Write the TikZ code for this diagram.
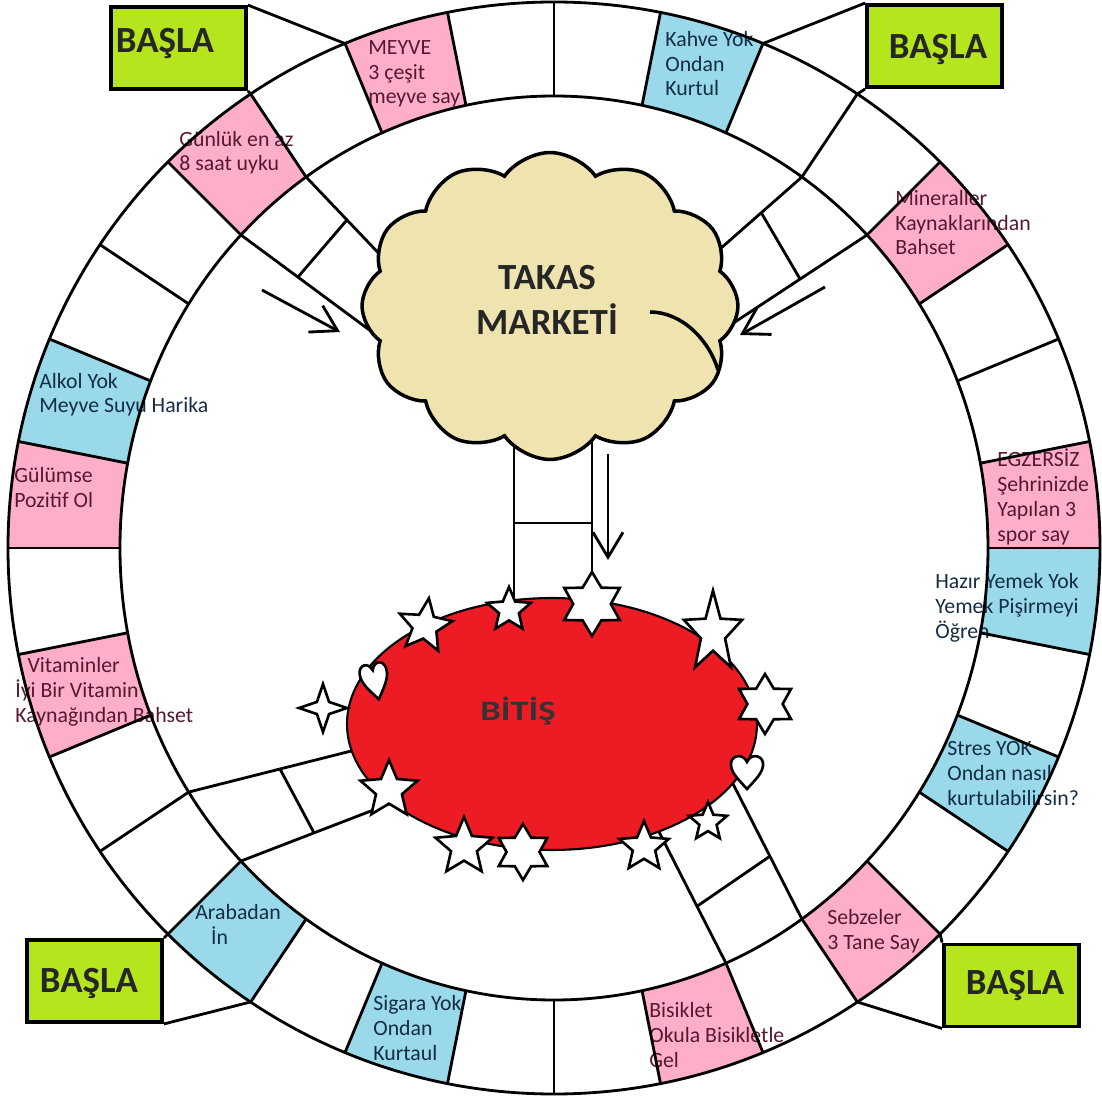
\documentclass[tikz,border=0pt]{standalone}
\usepackage{graphicx}
\usepackage{fontspec}
\setmainfont{Carlito}
\usetikzlibrary{shapes.geometric, shapes.symbols, arrows.meta, calc}

\definecolor{pinkcol}{RGB}{255,174,201}
\definecolor{bluecol}{RGB}{153,217,234}
\definecolor{limecol}{RGB}{181,230,29}
\definecolor{tancol}{RGB}{239,228,176}
\definecolor{redcol}{RGB}{237,28,36}
\definecolor{pinkink}{RGB}{85,25,50}
\definecolor{blueink}{RGB}{20,45,70}

% радиус внутреннего кольца
\newcommand{\ringin}[1]{434/sqrt((cos(#1))^2+0.92195*(sin(#1))^2)}

\begin{document}
\begin{tikzpicture}[x=0.02cm, y=0.02cm,
    ringline/.style={line width=1.6pt},
    pinkcell/.style={fill=pinkcol},
    bluecell/.style={fill=bluecol},
    celltext/.style={font=\fontsize{12.4}{14.2}\selectfont, align=left, anchor=base west, inner sep=0pt},
    startbox/.style={rectangle, draw, line width=2.2pt, fill=limecol, minimum width=27mm, minimum height=16.4mm, inner sep=0pt},
    starttext/.style={font=\fontsize{21}{24}\selectfont\bfseries, text=black!85, anchor=base, inner sep=0pt},
    market/.style={cloud, cloud puffs=12, cloud puff arc=110, cloud ignores aspect, draw, line width=2pt, fill=tancol, minimum width=75.2mm, minimum height=61.4mm, inner sep=0pt},
    finish/.style={ellipse, draw, line width=1.2pt, fill=redcol, minimum width=82mm, minimum height=50.4mm, inner sep=0pt},
    bigtext/.style={font=\fontsize{21}{25.5}\selectfont\bfseries, text=black!85, align=center, inner sep=0pt},
    wstar/.style={star, draw, fill=white, line width=1.5pt, inner sep=0pt},
    pointer/.style={line width=1.6pt, -{Straight Barb[length=5mm, width=6mm]}},
    heartpic/.pic={\draw[fill=white, line width=1.5pt] (0,-17) .. controls (-8,-8) and (-17,0) .. (-16,9) .. controls (-15,17) and (-4,19) .. (0,10) .. controls (4,19) and (15,17) .. (16,9) .. controls (17,0) and (8,-8) .. (0,-17) -- cycle;}
]
\useasboundingbox (-554,-551) rectangle (548,548);

% Цветные клетки
\foreach \i/\c in {0/pinkcell, 3/pinkcell, 9/pinkcell, 11/pinkcell, 15/pinkcell, 17/pinkcell, 25/pinkcell, 27/pinkcell,
                   6/bluecell, 14/bluecell, 20/bluecell, 22/bluecell, 29/bluecell, 31/bluecell}{
  \pgfmathsetmacro\a{\i*11.25}
  \pgfmathsetmacro\b{\a+11.25}
  \begin{scope}
    \clip (0,0) -- (\a:700) -- (\b:700) -- cycle;
    \fill[\c, even odd rule] (0,0) circle[radius=546] (0,0) ellipse[x radius=434, y radius=452];
  \end{scope}
}

% Тексты клеток (опорная точка - последняя строка)
\node[celltext, text=pinkink] (egzersiz) at (443,7) {EGZERSİZ\\Şehrinizde\\Yapılan 3\\spor say};
\node[celltext, text=pinkink] (mineral) at (341,293) {Mineraller\\Kaynaklarından\\Bahset};
\node[celltext, text=blueink] (kahve) at (111,452) {Kahve Yok\\Ondan\\Kurtul};
\node[celltext, text=pinkink] (meyve) at (-186,444) {MEYVE\\3 çeşit\\meyve say};
\node[celltext, text=pinkink] (uyku) at (-375,377) {Günlük en az\\8 saat uyku};
\node[celltext, text=blueink] (alkol) at (-515,135) {Alkol Yok\\Meyve Suyu Harika};
\node[celltext, text=pinkink] (gulumse) at (-540,41) {Gülümse\\Pozitif Ol};
\node[celltext, text=pinkink] (vitamin) at (-539,-174) {\hspace*{7pt}Vitaminler\\İyi Bir Vitamin\\Kaynağından Bahset};
\node[celltext, text=blueink] (araba) at (-359,-396) {Arabadan\\\hspace*{9pt}İn};
\node[celltext, text=blueink] (sigara) at (-181,-512) {Sigara Yok\\Ondan\\Kurtaul};
\node[celltext, text=pinkink] (bisiklet) at (95,-519) {Bisiklet\\Okula Bisikletle\\Gel};
\node[celltext, text=pinkink] (sebze) at (273,-401) {Sebzeler\\3 Tane Say};
\node[celltext, text=blueink] (stres) at (393,-257) {Stres YOK\\Ondan nasıl\\kurtulabilirsin?};
\node[celltext, text=blueink] (hazir) at (381,-90) {Hazır Yemek Yok\\Yemek Pişirmeyi\\Öğren};

% Кольцо
\draw[ringline] (0,0) circle[radius=546];
\draw[ringline] (0,0) ellipse[x radius=434, y radius=452];
\foreach \i in {0,...,31}{
  \pgfmathsetmacro\a{\i*11.25}
  \draw[ringline] (\a:546) -- (\a:{\ringin{\a}});
}

% Старты
\node[startbox] (startNW) at (-375.5,500) {};
\node[startbox] (startNE) at (380.5,502) {};
\node[startbox] (startSW) at (-459.5,-433) {};
\node[startbox] (startSE) at (457.5,-437.5) {};
\node[starttext] (startNWtext) at (-389,495) {BAŞLA};
\node[starttext] (startNEtext) at (384,489) {BAŞLA};
\node[starttext] (startSWtext) at (-465,-444) {BAŞLA};
\node[starttext] (startSEtext) at (461,-446) {BAŞLA};

\coordinate (o56) at (56.25:546);
\coordinate (o67) at (67.5:546);
\coordinate (o112) at (112.5:546);
\coordinate (o124) at (123.75:546);
\coordinate (o225) at (225:546);
\coordinate (o236) at (236.25:546);
\coordinate (o304) at (303.75:546);
\coordinate (o315) at (315:546);

\draw[ringline] (startNW.north east) -- (o112);
\draw[ringline] (startNW.south east) -- (o124);
\draw[ringline] (startNE.north west) -- (o67);
\draw[ringline] (startNE.south west) -- (o56);
\draw[ringline] (startSW.north east) -- (o225);
\draw[ringline] (startSW.south east) -- (o236);
\draw[ringline] (startSE.north west) -- (o315);
\draw[ringline] (startSE.south west) -- (o304);

% Дорожки к центру
\coordinate (i45) at (45:{\ringin{45}});
\coordinate (i56) at (56.25:{\ringin{56.25}});
\coordinate (i124) at (123.75:{\ringin{123.75}});
\coordinate (i135) at (135:{\ringin{135}});
\coordinate (i214) at (213.75:{\ringin{213.75}});
\coordinate (i225) at (225:{\ringin{225}});
\coordinate (i293) at (292.5:{\ringin{292.5}});
\coordinate (i304) at (303.75:{\ringin{303.75}});

\coordinate (nwA) at (-147,265);
\coordinate (nwB) at (-144,188);
\coordinate (neA) at (141,277);
\coordinate (neB) at (140,199);
\coordinate (swA) at (-187,-199);
\coordinate (swB) at (-139,-246);
\coordinate (seA) at (101,-276);
\coordinate (seB) at (173,-224);
\coordinate (vA1) at (-40,140);
\coordinate (vA2) at (-40,-70);
\coordinate (vB1) at (38,140);
\coordinate (vB2) at (38,-70);

\draw[ringline] (i124) -- (nwA);
\draw[ringline] (i135) -- (nwB);
\draw[ringline] ($(i124)!0.405!(nwA)$) -- ($(i135)!0.337!(nwB)$);

\draw[ringline] (i56) -- (neA);
\draw[ringline] (i45) -- (neB);
\draw[ringline] ($(i56)!0.38!(neA)$) -- ($(i45)!0.387!(neB)$);

\draw[ringline] (i214) -- (swA);
\draw[ringline] (i225) -- (swB);
\draw[ringline] ($(i214)!0.512!(swA)$) -- ($(i225)!0.42!(swB)$);

\draw[ringline] (i293) -- (seA);
\draw[ringline] (i304) -- (seB);
\draw[ringline] ($(i293)!0.408!(seA)$) -- ($(i304)!0.427!(seB)$);

\draw[ringline] (vA1) -- (vA2);
\draw[ringline] (vB1) -- (vB2);
\draw[ringline] ($(vA1)!0.548!(vA2)$) -- ($(vB1)!0.548!(vB2)$);

% Облако
\node[market] (market) at (-4,242) {};
\node[bigtext] (marketText) at (-7,248) {TAKAS\\MARKETİ};
\draw[line width=2pt] (96,236) .. controls (128,236) and (155,208) .. (164,178);

% Финиш
\node[finish] (finish) at (-2,-176) {};
\node[font=\fontsize{16}{19}\selectfont\bfseries, text=black!80, anchor=base, inner sep=0pt] (finishText) at (-36,-172) {\scalebox{1.3}[1]{BİTİŞ}};

% Стрелки
\coordinate (arNWs) at (-292,258);
\coordinate (arNWe) at (-214,216);
\coordinate (arNEs) at (271,261);
\coordinate (arNEe) at (186,213);
\coordinate (arDs) at (54,94);
\coordinate (arDe) at (54,-12);
\draw[pointer] (arNWs) -- (arNWe);
\draw[pointer] (arNEs) -- (arNEe);
\draw[pointer] (arDs) -- (arDe);

% Звёзды и сердца
\node[wstar, star points=5, star point ratio=2.2, minimum size=11.2mm, rotate=-8] (star1) at (-129,-78) {};
\node[wstar, star points=5, star point ratio=2.2, minimum size=9.2mm] (star2) at (-45,-62) {};
\node[wstar, star points=6, star point ratio=1.7, minimum size=12.8mm] (star3) at (38,-56) {};
\node[wstar, star points=5, star point ratio=2.4, minimum size=17mm, xscale=0.72, transform shape] (star4) at (159,-85) {};
\node[wstar, star points=6, star point ratio=1.7, minimum size=12mm] (star5) at (211,-156) {};
\node[wstar, star points=5, star point ratio=2.2, minimum size=8mm] (star7) at (154,-274) {};
\node[wstar, star points=5, star point ratio=2.2, minimum size=10.4mm] (star8) at (90,-299) {};
\node[wstar, star points=6, star point ratio=1.7, minimum size=11.2mm] (star9) at (-31,-304) {};
\node[wstar, star points=5, star point ratio=2.2, minimum size=12mm] (star10) at (-90,-299) {};
\node[wstar, star points=5, star point ratio=2.2, minimum size=12mm] (star11) at (-165,-242) {};
\node[wstar, star points=4, star point ratio=2.8, minimum size=9.6mm] (star12) at (-231,-160) {};
\pic (heartR) at (193,-224) {heartpic};
\pic[rotate=12, xscale=0.85, yscale=1.1] (heartL) at (-179,-133) {heartpic};
\end{tikzpicture}
\end{document}
